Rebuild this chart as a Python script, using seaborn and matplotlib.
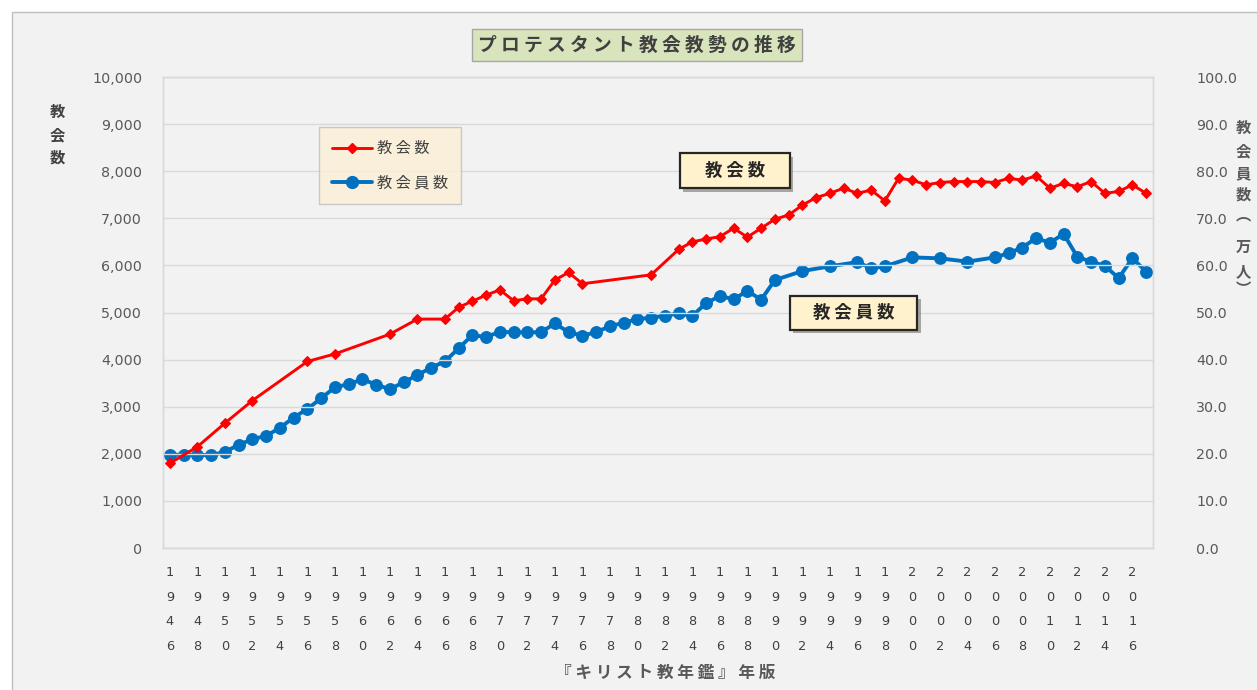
import numpy as np
import pandas as pd
import seaborn as sns
import matplotlib
matplotlib.use("Agg")
import matplotlib.pyplot as plt
import matplotlib.patheffects as pe
from matplotlib.patches import Rectangle
from matplotlib.lines import Line2D

sns.set_theme(style="white")
plt.rcParams['font.family'] = ['Noto Sans CJK JP', 'DejaVu Sans']

# 教会数 (left axis)
church_years = [1946, 1948, 1950, 1952, 1956, 1958, 1962, 1964, 1966, 1967, 1968, 1969,
                1970, 1971, 1972, 1973, 1974, 1975, 1976, 1981, 1983, 1984, 1985, 1986,
                1987, 1988, 1989, 1990, 1991, 1992, 1993, 1994, 1995, 1996, 1997, 1998,
                1999, 2000, 2001, 2002, 2003, 2004, 2005, 2006, 2007, 2008, 2009, 2010,
                2011, 2012, 2013, 2014, 2015, 2016, 2017]
churches = [1800, 2150, 2650, 3130, 3960, 4120, 4540, 4860, 4860, 5110, 5240, 5370,
            5480, 5250, 5290, 5290, 5690, 5850, 5610, 5800, 6340, 6500, 6560, 6610,
            6790, 6600, 6790, 6980, 7070, 7280, 7440, 7530, 7640, 7530, 7600, 7370,
            7850, 7810, 7710, 7760, 7780, 7780, 7780, 7760, 7850, 7810, 7900, 7640,
            7740, 7670, 7780, 7530, 7570, 7710, 7530]

# 教会員数 (right axis, 万人)
member_years = [1946, 1947, 1948, 1949, 1950, 1951, 1952, 1953, 1954, 1955, 1956, 1957,
                1958, 1959, 1960, 1961, 1962, 1963, 1964, 1965, 1966, 1967, 1968, 1969,
                1970, 1971, 1972, 1973, 1974, 1975, 1976, 1977, 1978, 1979, 1980, 1981,
                1982, 1983, 1984, 1985, 1986, 1987, 1988, 1989, 1990, 1992, 1994, 1996,
                1997, 1998, 2000, 2002, 2004, 2006, 2007, 2008, 2009, 2010, 2011, 2012,
                2013, 2014, 2015, 2016, 2017]
members = [19.8, 19.8, 19.8, 19.7, 20.4, 21.9, 23.1, 23.8, 25.5, 27.7, 29.5, 31.8,
           34.1, 34.8, 35.8, 34.7, 33.7, 35.2, 36.7, 38.3, 39.6, 42.4, 45.2, 44.8,
           45.9, 45.8, 45.8, 45.8, 47.7, 45.8, 45.1, 45.8, 47.1, 47.8, 48.6, 48.9,
           49.3, 49.8, 49.3, 52.0, 53.5, 52.8, 54.6, 52.7, 56.9, 58.8, 59.8, 60.7,
           59.4, 59.8, 61.7, 61.5, 60.8, 61.7, 62.6, 63.8, 65.8, 64.8, 66.7, 61.8,
           60.8, 59.9, 57.3, 61.5, 58.7]

tick_years = list(range(1946, 2017, 2))

RED = '#ff0000'
BLUE = '#0070c0'
TXT = '#595959'
W, H = 1257, 690


def spaced(s):
    return ' '.join(s)


df_c = pd.DataFrame({'year': church_years, 'n': churches})
df_m = pd.DataFrame({'year': member_years, 'n': members})

fig = plt.figure(figsize=(12.57, 6.9), dpi=100, facecolor='white')
fig.patches.append(Rectangle((12 / W, -0.1), 1.2, 1.1 - 12 / H,
                             transform=fig.transFigure, facecolor='#f2f2f2',
                             edgecolor='#bfbfbf', lw=1, zorder=-10))
ax = fig.add_axes([163 / W, 1 - 548 / H, 990 / W, 471 / H])
ax2 = ax.twinx()

sns.lineplot(data=df_c, x='year', y='n', ax=ax, color=RED, lw=2.1, marker='D',
             markersize=5.5, markeredgecolor=RED, zorder=3)
sns.lineplot(data=df_m, x='year', y='n', ax=ax2, color=BLUE, lw=2.8, marker='o',
             markersize=8.5, markeredgecolor=BLUE, zorder=3)

ax.set_xlim(1945.5, 2017.5)
ax.set_ylim(0, 10000)
ax2.set_ylim(0, 100)
ax.set_yticks(range(0, 10001, 1000))
ax.set_yticklabels([f'{v:,}' for v in range(0, 10001, 1000)], family='DejaVu Sans')
ax2.set_yticks(range(0, 101, 10))
ax2.set_yticklabels([f'{v:.1f}' for v in range(0, 101, 10)], family='DejaVu Sans')
ax.set_xticks(tick_years)
ax.set_xticklabels(['\n'.join(str(y)) for y in tick_years], linespacing=2.15,
                   family='DejaVu Sans')

ax.yaxis.grid(True, color='#d9d9d9', lw=1)
ax.tick_params(axis='x', length=0, pad=13, labelsize=9.3, labelcolor='#404040')
ax.tick_params(axis='y', length=0, pad=15, labelsize=10.3, labelcolor=TXT)
ax2.tick_params(axis='y', length=0, pad=31, labelsize=10.3, labelcolor=TXT)
for a in (ax, ax2):
    a.set_xlabel('')
    a.set_ylabel('')
    for s in a.spines.values():
        s.set_color('#d9d9d9')
        s.set_linewidth(1)

ax.set_zorder(ax2.get_zorder() + 1)
ax.patch.set_visible(False)
ax2.patch.set_facecolor('white')

# title
fig.text(637 / W, 1 - 45 / H, spaced('プロテスタント教会教勢の推移'), ha='center', va='center',
         fontsize=13.5, fontweight='bold', color='#404040',
         bbox=dict(boxstyle='square,pad=0.35', facecolor='#d8e4bc', edgecolor='#a6a6a6', lw=1))

# axis labels, written vertically one character at a time
for ch, yy in zip('教会数', [112, 135, 158]):
    fig.text(57 / W, 1 - yy / H, ch, ha='center', va='center',
             fontsize=11, fontweight='bold', color='#404040')
for ch, yy in zip('教会員数︵万人︶', [128, 151, 173, 195, 214, 247, 271, 289]):
    fig.text(1243 / W, 1 - yy / H, ch, ha='center', va='center',
             fontsize=11, fontweight='bold', color=TXT)
fig.text(665 / W, 1 - 673 / H, spaced('『キリスト教年鑑』年版'), ha='center', va='center',
         fontsize=12, fontweight='bold', color=TXT)

# legend
handles = [Line2D([], [], color=RED, lw=2.1, marker='D', markersize=5.5),
           Line2D([], [], color=BLUE, lw=2.8, marker='o', markersize=8.5)]
leg = ax.legend(handles, [spaced('教会数'), spaced('教会員数')], loc='upper left',
                bbox_to_anchor=(0.158, 0.894), frameon=True, fancybox=False,
                fontsize=11, handlelength=2.6, labelspacing=1.15, borderpad=0.85,
                handletextpad=0.3, borderaxespad=0)
leg.get_frame().set_facecolor('#fcefd4')
leg.get_frame().set_edgecolor('#bfbfbf')
for t in leg.get_texts():
    t.set_color('#404040')

# callout boxes (axes fractions)
callouts = [('教会数', (0.522, 0.764, 0.111, 0.074)),
            ('教会員数', (0.633, 0.463, 0.129, 0.072))]
for txt, (x0, y0, w, h) in callouts:
    box = Rectangle((x0, y0), w, h, transform=ax.transAxes, facecolor='#fff2cc',
                    edgecolor='#262626', lw=1.6, zorder=5)
    box.set_path_effects([pe.withSimplePatchShadow(offset=(2.5, -2.5), alpha=0.45)])
    ax.add_patch(box)
    ax.text(x0 + w / 2, y0 + h / 2, spaced(txt), transform=ax.transAxes,
            ha='center', va='center', fontsize=12.5, fontweight='bold',
            color='#262626', zorder=6)

plt.savefig('out.png', dpi=100, facecolor=fig.get_facecolor())
